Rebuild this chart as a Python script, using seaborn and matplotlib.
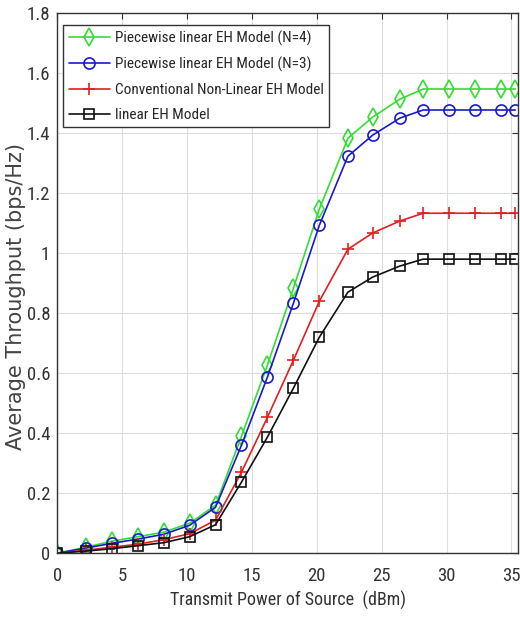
import numpy as np
import pandas as pd
import matplotlib
matplotlib.use("Agg")
import matplotlib.pyplot as plt
import seaborn as sns

# ---------------------------------------------------------------
# data
# ---------------------------------------------------------------
power_dbm = [0, 2.2, 4.2, 6.2, 8.2, 10.2, 12.2, 14.2, 16.2, 18.2, 20.2,
             22.4, 24.3, 26.4, 28.2, 30.2, 32.2, 34.2, 35.3]

pw_n4 = [0.0, 0.02, 0.04, 0.055, 0.07, 0.10, 0.16, 0.39, 0.627, 0.883, 1.147,
         1.383, 1.453, 1.513, 1.547, 1.547, 1.547, 1.547, 1.547]
pw_n3 = [0.0, 0.017, 0.033, 0.047, 0.063, 0.093, 0.153, 0.36, 0.587, 0.833, 1.093,
         1.323, 1.393, 1.45, 1.477, 1.477, 1.477, 1.477, 1.477]
conv_nl = [0.0, 0.01, 0.02, 0.03, 0.045, 0.065, 0.11, 0.27, 0.453, 0.643, 0.84,
           1.013, 1.067, 1.107, 1.133, 1.133, 1.133, 1.133, 1.133]
linear_eh = [0.0, 0.007, 0.015, 0.025, 0.035, 0.055, 0.095, 0.237, 0.387, 0.55, 0.72,
             0.87, 0.92, 0.957, 0.98, 0.98, 0.98, 0.98, 0.98]

labels = ["Piecewise linear EH Model (N=4)",
          "Piecewise linear EH Model (N=3)",
          "Conventional Non-Linear EH Model",
          "linear EH Model"]
series = [pw_n4, pw_n3, conv_nl, linear_eh]
colors = ["#33dd33", "#1a1acc", "#e02020", "#111111"]
markers = ["d", "o", "+", "s"]
msizes = [9, 8, 9, 7]

sns.set_style("whitegrid")
plt.rcParams["font.family"] = ["Roboto Condensed", "DejaVu Sans"]

fig = plt.figure(figsize=(5.2, 6.23), dpi=100)
ax = fig.add_axes([0.11, 0.112, 0.886, 0.867])

for lab, ys, c, m, ms in zip(labels, series, colors, markers, msizes):
    df = pd.DataFrame({"x": power_dbm, "y": ys})
    sns.lineplot(data=df, x="x", y="y", ax=ax, color=c, marker=m,
                 markersize=ms, markerfacecolor="none",
                 markeredgecolor=c, markeredgewidth=1.2, linewidth=1.2,
                 label=lab)

ax.set_xlim(0, 35.5)
ax.set_ylim(0, 1.8)
ax.set_xticks(np.arange(0, 36, 5))
ax.set_yticks(np.arange(0, 1.81, 0.2))
ax.set_yticklabels(["0", "0.2", "0.4", "0.6", "0.8", "1", "1.2", "1.4", "1.6", "1.8"])
ax.tick_params(axis="both", labelsize=13.5, colors="#333333", direction="in",
               length=4, top=True, right=True, labelcolor="#333333")
ax.tick_params(axis="x", pad=10)
ax.tick_params(axis="y", pad=5)
ax.grid(True, color="#dddddd", linewidth=0.8)
for s in ax.spines.values():
    s.set_color("#333333")
    s.set_linewidth(1.0)

ax.set_xlabel("Transmit Power of Source  (dBm)", fontsize=13, color="#333333", labelpad=4)
ax.set_ylabel("Average Throughput (bps/Hz)", fontsize=15, color="#444444",
              family=["DejaVu Sans"])
ax.yaxis.set_label_coords(-0.067, 0.476)

leg = ax.legend(loc="upper left", bbox_to_anchor=(0.013, 0.978), borderaxespad=0,
                fontsize=11, frameon=True, fancybox=False,
                edgecolor="#333333", borderpad=0.35, labelspacing=0.72,
                handlelength=2.7, handletextpad=0.33)
leg.get_frame().set_linewidth(1.0)
leg.get_frame().set_alpha(1.0)

fig.savefig("out.png", dpi=100)
